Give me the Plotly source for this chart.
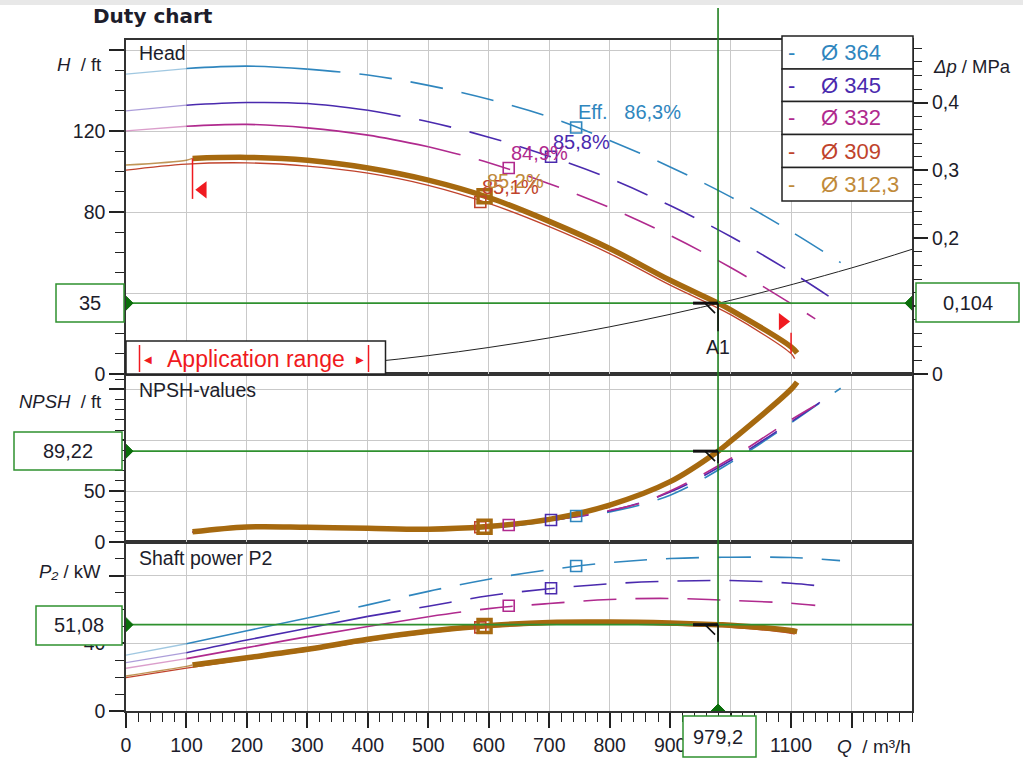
import plotly.graph_objects as go

# ---------------- data ----------------
q_ticks = [0, 100, 200, 300, 400, 500, 600, 700, 800, 900, 1000, 1100, 1200]
q_labels = ["0", "100", "200", "300", "400", "500", "600", "700", "800", "900", "1000", "1100", ""]
head_ticks = [0, 40, 80, 120, 160]
head_labels = ["0", "", "80", "120", ""]
npsh_ticks = [0, 50, 100, 150]
npsh_labels = ["0", "50", "", ""]
power_ticks = [0, 40, 80]
power_labels = ["0", "40", ""]
dp_ticks = [0, 0.1, 0.2, 0.3, 0.4]
dp_labels = ["0", "", "0,2", "0,3", "0,4"]

diameters = ["Ø 364", "Ø 345", "Ø 332", "Ø 309", "Ø 312,3"]

# head H / ft
q_364 = [0, 100, 200, 300, 400, 500, 600, 700, 800, 900, 1000, 1100, 1182]
h_364 = [148.1, 150.9, 152.1, 150.6, 147.7, 142.6, 135.7, 127.0, 115.4, 102.3, 87.5, 70.4, 55.0]
q_345 = [0, 100, 200, 300, 400, 500, 600, 700, 800, 900, 1000, 1100, 1162]
h_345 = [130.0, 132.8, 134.1, 133.6, 130.3, 124.6, 117.0, 107.6, 96.6, 83.2, 67.9, 50.4, 38.5]
q_332 = [0, 100, 200, 300, 400, 500, 600, 700, 800, 900, 1000, 1100, 1140]
h_332 = [120.1, 122.4, 123.3, 121.6, 118.0, 112.3, 104.4, 94.0, 82.2, 68.4, 52.6, 34.8, 27.2]
q_309 = [0, 100, 200, 300, 400, 500, 600, 700, 800, 900, 1000, 1100, 1106]
h_309 = [100.7, 103.7, 104.3, 102.7, 99.2, 93.2, 84.3, 72.8, 59.5, 43.9, 29.3, 10.1, 7.6]
q_3123 = [0, 100, 110, 200, 300, 400, 500, 600, 700, 800, 900, 979.2, 1000, 1100, 1110]
h_3123 = [103.2, 105.6, 106.5, 107.0, 105.6, 101.8, 95.8, 87.2, 75.4, 62.0, 46.3, 35.0, 31.7, 13.4, 10.4]

# NPSH / ft
nq_364 = [110, 200, 300, 400, 500, 600, 700, 745.6, 800, 900, 1000, 1100, 1182]
n_364 = [9.5, 14.5, 14.3, 13.3, 12.4, 13.5, 20.5, 25.5, 29.5, 46.0, 78.0, 117.0, 151.0]
nq_345 = [110, 200, 300, 400, 500, 600, 705, 800, 900, 1000, 1100, 1162]
n_345 = [9.5, 14.5, 14.3, 13.3, 12.4, 14.0, 21.6, 30.5, 49.0, 80.0, 118.0, 143.0]
nq_332 = [110, 200, 300, 400, 500, 634, 700, 800, 850, 914, 1000, 1100, 1140]
n_332 = [9.5, 14.5, 14.3, 13.3, 12.4, 16.7, 21.0, 31.0, 38.0, 54.0, 82.0, 120.0, 134.0]
nq_309 = [110, 200, 300, 400, 500, 586, 700, 800, 900, 1000, 1100, 1106]
n_309 = [10.0, 14.8, 14.4, 13.4, 12.6, 14.5, 22.3, 36.5, 60.0, 100.0, 148.0, 152.0]
nq_3123 = [110, 200, 300, 400, 500, 592, 700, 800, 900, 979.2, 1000, 1100, 1110]
n_3123 = [10.0, 14.8, 14.5, 13.5, 12.6, 15.0, 22.2, 36.3, 59.3, 89.22, 99.0, 150.0, 157.0]

# shaft power P2 / kW
pq_364 = [0, 100, 200, 300, 400, 500, 600, 700, 800, 900, 1000, 1100, 1181]
p_364 = [33.1, 39.8, 47.5, 55.0, 62.8, 70.8, 78.0, 83.6, 87.8, 90.2, 91.0, 90.8, 89.0]
pq_345 = [0, 100, 200, 300, 400, 500, 600, 700, 800, 900, 1000, 1100, 1160]
p_345 = [28.6, 34.5, 42.0, 49.0, 56.0, 62.0, 68.2, 72.3, 75.3, 76.8, 77.2, 75.6, 73.5]
pq_332 = [0, 100, 200, 300, 400, 500, 600, 700, 800, 900, 1000, 1100, 1140]
p_332 = [25.3, 31.0, 37.5, 44.0, 50.0, 55.8, 60.6, 63.6, 66.0, 66.6, 65.4, 63.8, 62.5]
pq_309 = [0, 100, 200, 300, 400, 500, 586, 700, 800, 900, 1000, 1100, 1106]
p_309 = [19.8, 25.4, 30.6, 35.6, 41.4, 46.2, 49.2, 51.3, 51.5, 50.8, 49.5, 46.0, 45.5]
pq_3123 = [0, 100, 110, 200, 300, 400, 500, 592, 700, 800, 900, 979.2, 1000, 1100, 1110]
p_3123 = [20.7, 26.4, 27.2, 31.5, 36.5, 42.5, 47.2, 50.3, 52.4, 52.6, 52.0, 51.08, 50.8, 47.6, 47.0]

# best efficiency points
eff_q = [744.5, 703, 633, 586, 593]
eff_head = [121.8, 107.3, 101.8, 85.0, 87.8]
eff_npsh = [25.5, 21.6, 16.7, 14.5, 15.0]
eff_power = [85.8, 72.6, 62.3, 49.5, 50.3]
eff_text = ["Eff.\u00a0\u00a0 86,3%", "85,8%", "84,9%", "85,1%", "85,2%"]

# system curve
sys_q = [0, 200, 400, 600, 800, 1000, 1200, 1300]
sys_h = [0, 1.5, 5.8, 13.1, 23.3, 36.4, 52.4, 61.6]

# duty point A1
q_duty = 979.2
h_duty = 35
npsh_duty = 89.22
p_duty = 51.08
app_range = [110, 1110]

# ---------------- styling ----------------
FONT = "Liberation Sans, Arial, sans-serif"
TXT = "#1d1d2b"
GRID = "#c9c9c9"
FRAME = "#333333"
GREEN = "#2f912f"
DGREEN = "#0a6e0a"
RED = "#f01a20"
DASH = "33px,19px"
colors = ["#2f86be", "#4a2aae", "#b02a8e", "#c0432c", "#a6690f"]
text_colors = ["#2f86be", "#4a2aae", "#b02a8e", "#c0432c", "#c08a3a"]

RHO = 998.2
FT_TO_MPA = 0.3048 * 9.80665 * RHO / 1e6
HEAD_MAX = 165
NPSH_MAX = 165
POWER_MAX = 100
Q_MAX = 1300

W, H = 1023, 759
L, R, T, B = 126, 912, 40, 711
def px(xp):
    return (xp - L) / (R - L)
def py(yp):
    return (B - yp) / (B - T)

D_POWER = (B - 542) / (B - T)
D_NPSH = (B - 374) / (B - T)

fig = go.Figure()


def seg(q, v, lo, hi):
    pts = [(a, b) for a, b in zip(q, v) if lo <= a <= hi]
    return [p[0] for p in pts], [p[1] for p in pts]


def add_line(q, v, xa, ya, color, width, dash="solid", opacity=1.0):
    fig.add_trace(go.Scatter(
        x=q, y=v, xaxis=xa, yaxis=ya, mode="lines",
        line=dict(color=color, width=width, dash=dash, shape="spline", smoothing=1.0),
        opacity=opacity, hoverinfo="skip", showlegend=False))


def add_curve(q, v, xa, ya, color, pale_to=None, solid_to=None, width=1.6):
    start = q[0]
    if pale_to is not None:
        add_line(*seg(q, v, -1, pale_to), xa, ya, color, 1.3, opacity=0.45)
        start = pale_to
    if solid_to is not None and solid_to > start:
        add_line(*seg(q, v, start, solid_to), xa, ya, color, width)
        start = solid_to
    add_line(*seg(q, v, start, 1e9), xa, ya, color, width, dash=DASH)


# system curve
add_line(sys_q, sys_h, "x3", "y3", "#222222", 1.0)

# head curves
add_curve(q_364, h_364, "x3", "y3", colors[0], 100, 300)
add_curve(q_345, h_345, "x3", "y3", colors[1], 100, 400)
add_curve(q_332, h_332, "x3", "y3", colors[2], 100, 500)
add_line(q_309, h_309, "x3", "y3", colors[3], 1.3)
add_line(*seg(q_3123, h_3123, 0, app_range[0]), "x3", "y3", colors[4], 1.5, opacity=0.7)
add_line(*seg(q_3123, h_3123, app_range[0], 1e9), "x3", "y3", colors[4], 5.5)

# NPSH curves
add_curve(nq_364, n_364, "x2", "y2", colors[0])
add_curve(nq_345, n_345, "x2", "y2", colors[1])
add_curve(nq_332, n_332, "x2", "y2", colors[2])
add_line(nq_309, n_309, "x2", "y2", colors[3], 1.3)
add_line(nq_3123, n_3123, "x2", "y2", colors[4], 5.5)

# power curves
add_curve(pq_364, p_364, "x", "y", colors[0], 100, 300)
add_curve(pq_345, p_345, "x", "y", colors[1], 100, 400)
add_curve(pq_332, p_332, "x", "y", colors[2], 100, 500)
add_line(pq_309, p_309, "x", "y", colors[3], 1.3)
add_line(*seg(pq_3123, p_3123, 0, app_range[0]), "x", "y", colors[4], 1.5, opacity=0.7)
add_line(*seg(pq_3123, p_3123, app_range[0], 1e9), "x", "y", colors[4], 5.5)

# efficiency markers
for i in range(5):
    big = i == 4
    mk = dict(symbol="square-open", size=13 if big else 11,
              color=colors[i], line=dict(width=3.5 if big else 1.6, color=colors[i]))
    for xa, ya, vals in (("x3", "y3", eff_head), ("x2", "y2", eff_npsh), ("x", "y", eff_power)):
        fig.add_trace(go.Scatter(x=[eff_q[i]], y=[vals[i]], xaxis=xa, yaxis=ya, mode="markers",
                                 marker=mk, hoverinfo="skip", showlegend=False))

# application range limits on the selected curve
h_lo = h_3123[q_3123.index(app_range[0])]
h_hi = h_3123[q_3123.index(app_range[1])]
fig.add_trace(go.Scatter(x=[app_range[0], app_range[0]], y=[h_lo, h_lo - 20], xaxis="x3", yaxis="y3",
                         mode="lines", line=dict(color=RED, width=1.5), hoverinfo="skip", showlegend=False))
fig.add_trace(go.Scatter(x=[app_range[1] - 10, app_range[1] - 10], y=[h_hi, h_hi + 10], xaxis="x3", yaxis="y3",
                         mode="lines", line=dict(color=RED, width=1.5), hoverinfo="skip", showlegend=False))
fig.add_trace(go.Scatter(x=[app_range[0] + 17, app_range[1] - 24], y=[h_lo - 15.5, h_hi + 15.5],
                         xaxis="x3", yaxis="y3", mode="markers",
                         marker=dict(symbol=["triangle-left", "triangle-right"], size=15, color=RED),
                         hoverinfo="skip", showlegend=False))

shapes = []
annotations = []

# top strip
shapes.append(dict(type="rect", xref="paper", yref="paper", x0=px(0), x1=px(W), y0=py(0), y1=py(5),
                   fillcolor="#e8e8e8", line=dict(width=0), layer="below"))

# duty point guide lines
shapes += [
    dict(type="line", xref="paper", yref="y3", x0=0, x1=1, y0=h_duty, y1=h_duty,
         line=dict(color=GREEN, width=1.6), layer="above"),
    dict(type="line", xref="paper", yref="y2", x0=0, x1=1, y0=npsh_duty, y1=npsh_duty,
         line=dict(color=GREEN, width=1.6), layer="above"),
    dict(type="line", xref="paper", yref="y", x0=0, x1=1, y0=p_duty, y1=p_duty,
         line=dict(color=GREEN, width=1.6), layer="above"),
    dict(type="line", xref="x", yref="paper", x0=q_duty, x1=q_duty, y0=0, y1=py(8),
         line=dict(color="#1f7f1f", width=1.6), layer="above"),
]

# value boxes
def vbox(cx_px, cy_px, w, h, text, xref="paper", x=None, yref="paper", y=None):
    shapes.append(dict(type="rect", xref="paper", yref="paper",
                       x0=px(cx_px - w / 2), x1=px(cx_px + w / 2),
                       y0=py(cy_px + h / 2), y1=py(cy_px - h / 2),
                       fillcolor="white", line=dict(color=GREEN, width=1.5), layer="above"))
    annotations.append(dict(xref=xref, yref=yref, x=x if x is not None else px(cx_px),
                            y=y if y is not None else py(cy_px), text=text, showarrow=False,
                            xanchor="center", yanchor="middle",
                            font=dict(family=FONT, size=20, color=TXT)))

fmt = lambda v, d: f"{v:.{d}f}".replace(".", ",")
vbox(90, 303, 68, 38, fmt(h_duty, 0), yref="y3", y=h_duty)
vbox(967.5, 302.5, 103, 39, fmt(h_duty * FT_TO_MPA, 3), yref="y3", y=h_duty)
vbox(68, 451, 108, 38, fmt(npsh_duty, 2), yref="y2", y=npsh_duty)
vbox(79, 625.5, 86, 39, fmt(p_duty, 2), yref="y", y=p_duty)
vbox(719.5, 736.5, 73, 41, fmt(q_duty, 1), xref="x", x=q_duty)

# diamonds at the guide line ends
DIAM = "M -7,0 L 0,7 L 7,0 L 0,-7 Z"
for xr, xv, yr, yv in (("x3", 0, "y3", h_duty), ("x3", Q_MAX, "y3", h_duty),
                       ("x2", 0, "y2", npsh_duty), ("x", 0, "y", p_duty), ("x", q_duty, "y", 0)):
    shapes.append(dict(type="path", xref=xr, yref=yr, xsizemode="pixel", ysizemode="pixel",
                       xanchor=xv, yanchor=yv, path=DIAM, fillcolor=DGREEN,
                       line=dict(color=DGREEN, width=1), layer="above"))

# duty point ticks
for xr, yr, yv, down in (("x3", "y3", h_duty, 28), ("x2", "y2", npsh_duty, 12), ("x", "y", p_duty, 17)):
    shapes.append(dict(type="path", xref=xr, yref=yr, xsizemode="pixel", ysizemode="pixel",
                       xanchor=q_duty, yanchor=yv, path="M -25,0 L 0,0",
                       line=dict(color="#111", width=3), layer="above"))
    shapes.append(dict(type="path", xref=xr, yref=yr, xsizemode="pixel", ysizemode="pixel",
                       xanchor=q_duty, yanchor=yv, path=f"M 0,0 L 0,{-down} M -13,0 L -3,-10",
                       line=dict(color="#111", width=1.6), layer="above"))

annotations.append(dict(xref="x3", yref="y3", x=q_duty, y=h_duty, yshift=-44, text="A1",
                        xanchor="center", yanchor="middle",
                        showarrow=False, font=dict(family=FONT, size=19.5, color=TXT)))

# application range box
shapes.append(dict(type="rect", xref="paper", yref="paper", x0=px(126), x1=px(385.5), y0=py(374), y1=py(341),
                   fillcolor="white", line=dict(color="#222", width=1.5), layer="above"))
for bx in (139.5, 368.5):
    shapes.append(dict(type="line", xref="paper", yref="paper", x0=px(bx), x1=px(bx), y0=py(372), y1=py(345),
                       line=dict(color=RED, width=1.5), layer="above"))
for xp, txt, sz in ((256, "Application range", 23), (148, "◀", 10), (360, "▶", 10)):
    annotations.append(dict(xref="paper", yref="paper", x=px(xp), y=py(359), text=txt, showarrow=False,
                            xanchor="center", yanchor="middle",
                            font=dict(family=FONT if sz > 12 else "DejaVu Sans", size=sz, color=RED)))

# efficiency labels
for i in range(5):
    annotations.append(dict(xref="x3", yref="y3", x=eff_q[i], y=eff_head[i], text=eff_text[i],
                            xanchor="left", yanchor="bottom", xshift=0, yshift=2, showarrow=False,
                            font=dict(family=FONT, size=20, color=text_colors[i])))

# legend table
row_edges = [36, 69, 101.5, 134.5, 167.5, 201]
for i in range(5):
    shapes.append(dict(type="rect", xref="paper", yref="paper", x0=px(782), x1=px(913),
                       y0=py(row_edges[i + 1]), y1=py(row_edges[i]),
                       fillcolor="white", line=dict(color="#222", width=1.5), layer="above"))
    yc = py((row_edges[i] + row_edges[i + 1]) / 2)
    annotations.append(dict(xref="paper", yref="paper", x=px(791), y=yc, text="-", showarrow=False,
                            xanchor="center", yanchor="middle",
                            font=dict(family=FONT, size=22, color=text_colors[i])))
    annotations.append(dict(xref="paper", yref="paper", x=px(819), y=yc, text=diameters[i],
                            xanchor="left", yanchor="middle", showarrow=False,
                            font=dict(family=FONT, size=22, color=text_colors[i])))

# titles and axis names
def label(xp, yp, text, anchor="left", size=19.5, family=FONT):
    annotations.append(dict(xref="paper", yref="paper", x=px(xp), y=py(yp), text=text, showarrow=False,
                            xanchor=anchor, yanchor="middle", font=dict(family=family, size=size, color=TXT)))

label(91, 16, "<b>Duty chart</b>", size=20, family="DejaVu Sans")
label(137, 53, "Head")
label(137, 390, "NPSH-values")
label(137, 558, "Shaft power P2")
label(103, 65, "<i>H</i>\u00a0 / ft", anchor="right", size=18.5)
label(103, 401, "<i>NPSH</i>\u00a0 / ft", anchor="right", size=18.5)
label(103, 571, "<i>P₂</i> / kW", anchor="right", size=18.5)
label(931, 66, "<i>Δp</i> / MPa", size=18.5)
label(913, 746, "<i>Q</i>\u00a0 / m³/h", anchor="right", size=19)

tickfont = dict(family=FONT, size=19.5, color=TXT)
base = dict(showline=True, linecolor=FRAME, linewidth=1.5, mirror=True, zeroline=False, automargin=False,
            showgrid=True, gridcolor=GRID, gridwidth=1.3, tickfont=tickfont, tickmode="array")
major = dict(ticks="outside", ticklen=15, tickwidth=1.5, tickcolor="#222")

def minor(dt):
    return dict(tickmode="linear", tick0=0, dtick=dt, ticks="outside", ticklen=9,
                tickwidth=1.3, tickcolor="#222", showgrid=False)

fig.update_layout(
    width=W, height=H, margin=dict(l=L, r=W - R, t=T, b=H - B, autoexpand=False),
    paper_bgcolor="white", plot_bgcolor="white", showlegend=False,
    xaxis=dict(base, **major, domain=[0, 1], range=[0, Q_MAX], anchor="y",
               tickvals=q_ticks, ticktext=q_labels, minor=minor(20), ticklabelstandoff=1),
    xaxis2=dict(base, domain=[0, 1], range=[0, Q_MAX], anchor="y2", matches="x",
                tickvals=q_ticks, showticklabels=False, ticks=""),
    xaxis3=dict(base, domain=[0, 1], range=[0, Q_MAX], anchor="y3", matches="x",
                tickvals=q_ticks, showticklabels=False, ticks=""),
    yaxis=dict(base, **major, domain=[0, D_POWER], range=[0, POWER_MAX], anchor="x",
               tickvals=power_ticks, ticktext=power_labels, minor=minor(10)),
    yaxis2=dict(base, **major, domain=[D_POWER, D_NPSH], range=[0, NPSH_MAX], anchor="x2",
                tickvals=npsh_ticks, ticktext=npsh_labels, minor=minor(10)),
    yaxis3=dict(base, **major, domain=[D_NPSH, 1], range=[0, HEAD_MAX], anchor="x3",
                tickvals=head_ticks, ticktext=head_labels, minor=minor(10)),
    yaxis4=dict(**major, overlaying="y3", side="right", anchor="x3", range=[0, HEAD_MAX * FT_TO_MPA],
                tickmode="array", tickvals=dp_ticks, ticktext=dp_labels, showgrid=False, zeroline=False,
                showline=False, tickfont=tickfont, minor=minor(0.02), automargin=False),
    shapes=shapes, annotations=annotations,
)

# invisible trace to bring the pressure axis to life
fig.add_trace(go.Scatter(x=[0], y=[0], xaxis="x3", yaxis="y4", mode="markers",
                         marker=dict(opacity=0), hoverinfo="skip", showlegend=False))

fig.write_html("out.html")
